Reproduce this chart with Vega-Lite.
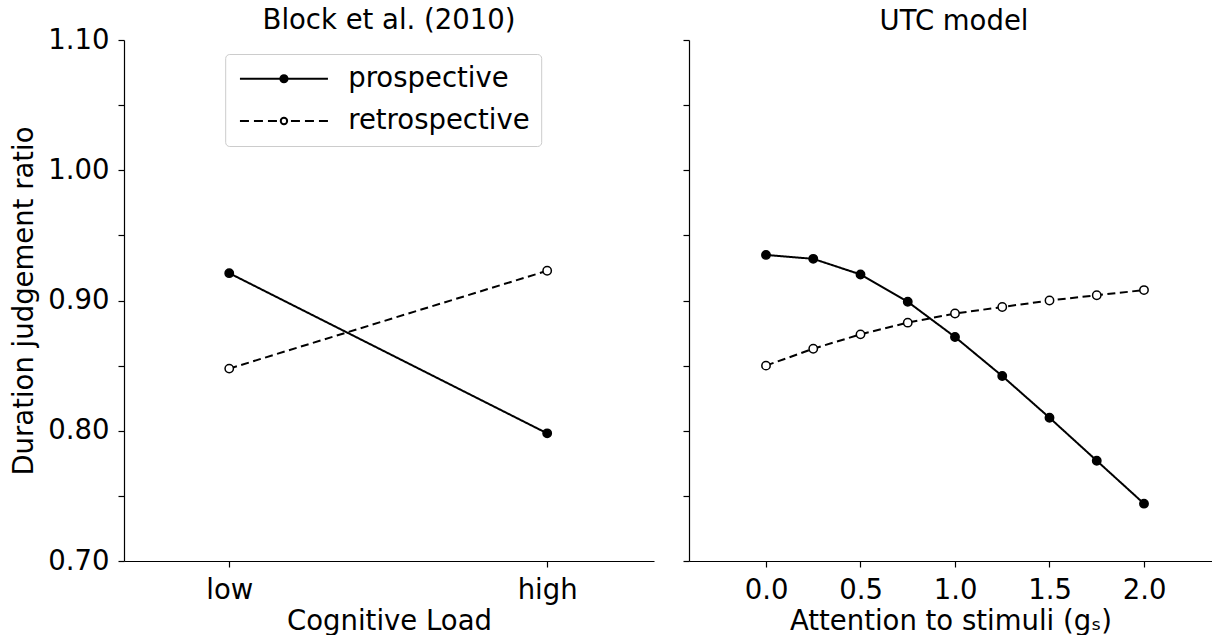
{
  "$schema": "https://vega.github.io/schema/vega-lite/v6.json",
  "padding": {"left": 10, "top": 7, "right": 0, "bottom": 0},
  "background": "white",
  "config": {
    "font": "DejaVu Sans",
    "view": {"stroke": null},
    "axis": {
      "domainColor": "black", "tickColor": "black", "labelColor": "black", "titleColor": "black",
      "grid": false, "labelFontSize": 27.5, "titleFontSize": 27.5, "titleFontWeight": "normal",
      "tickSize": 6, "tickWidth": 1.2, "domainWidth": 1.2, "labelPadding": 9
    },
    "title": {"fontSize": 27.5, "fontWeight": "normal", "color": "black"}
  },
  "datasets": {
    "block": [
      {"load": 0, "group": "prospective", "ratio": 0.921},
      {"load": 1, "group": "prospective", "ratio": 0.798},
      {"load": 0, "group": "retrospective", "ratio": 0.8477},
      {"load": 1, "group": "retrospective", "ratio": 0.9228}
    ],
    "utc": [
      {"gs": 0.0, "group": "prospective", "ratio": 0.935},
      {"gs": 0.25, "group": "prospective", "ratio": 0.932},
      {"gs": 0.5, "group": "prospective", "ratio": 0.920},
      {"gs": 0.75, "group": "prospective", "ratio": 0.899},
      {"gs": 1.0, "group": "prospective", "ratio": 0.872},
      {"gs": 1.25, "group": "prospective", "ratio": 0.842},
      {"gs": 1.5, "group": "prospective", "ratio": 0.810},
      {"gs": 1.75, "group": "prospective", "ratio": 0.777},
      {"gs": 2.0, "group": "prospective", "ratio": 0.744},
      {"gs": 0.0, "group": "retrospective", "ratio": 0.850},
      {"gs": 0.25, "group": "retrospective", "ratio": 0.863},
      {"gs": 0.5, "group": "retrospective", "ratio": 0.874},
      {"gs": 0.75, "group": "retrospective", "ratio": 0.883},
      {"gs": 1.0, "group": "retrospective", "ratio": 0.890},
      {"gs": 1.25, "group": "retrospective", "ratio": 0.895},
      {"gs": 1.5, "group": "retrospective", "ratio": 0.900},
      {"gs": 1.75, "group": "retrospective", "ratio": 0.904},
      {"gs": 2.0, "group": "retrospective", "ratio": 0.908}
    ]
  },
  "spacing": 35,
  "bounds": "flush",
  "hconcat": [
    {
      "width": 530,
      "height": 521,
      "title": {"text": "Block et al. (2010)", "offset": -8.5},
      "data": {"name": "block"},
      "layer": [
        {
          "mark": {"type": "line", "color": "black", "strokeWidth": 2},
          "encoding": {
            "x": {"field": "load", "type": "quantitative", "scale": {"domain": [-0.331, 1.336], "nice": false, "zero": false},
              "axis": {"values": [0, 1], "labelExpr": "datum.value == 0 ? 'low' : 'high'", "title": "Cognitive Load"}},
            "y": {"field": "ratio", "type": "quantitative", "scale": {"domain": [0.7, 1.1], "nice": false, "zero": false},
              "axis": {"values": [0.7, 0.75, 0.8, 0.85, 0.9, 0.95, 1.0, 1.05, 1.1],
                "labelExpr": "round(datum.value * 100) % 10 == 0 ? format(datum.value, '.2f') : ''",
                "title": "Duration judgement ratio", "titlePadding": 9}},
            "detail": {"field": "group", "type": "nominal"},
            "strokeDash": {"condition": {"test": "datum.group === 'retrospective'", "value": [8, 4.5]}, "value": [1, 0]}
          }
        },
        {
          "mark": {"type": "point", "filled": true, "shape": "circle", "size": 70, "stroke": "black", "strokeWidth": 1.5, "opacity": 1},
          "encoding": {
            "x": {"field": "load", "type": "quantitative"},
            "y": {"field": "ratio", "type": "quantitative"},
            "fill": {"condition": {"test": "datum.group === 'prospective'", "value": "black"}, "value": "white"}
          }
        },
        {
          "mark": {"type": "point", "filled": false, "size": 400, "stroke": "black", "strokeWidth": 2, "opacity": 0},
          "encoding": {
            "x": {"field": "load", "type": "quantitative"},
            "y": {"field": "ratio", "type": "quantitative"},
            "shape": {"field": "group", "type": "nominal",
              "scale": {"domain": ["prospective", "retrospective"],
                "range": [
                  "M-1,0L7.8,0M3.76,0A0.36,0.36,0,1,1,3.04,0A0.36,0.36,0,1,1,3.76,0ZM3.58,0A0.18,0.18,0,1,1,3.22,0A0.18,0.18,0,1,1,3.58,0ZM3.45,0A0.05,0.05,0,1,1,3.35,0A0.05,0.05,0,1,1,3.45,0Z",
                  "M-1,0L-0.1,0M0.4,0L1.3,0M1.8,0L2.7,0M3.72,0A0.32,0.32,0,1,1,3.08,0A0.32,0.32,0,1,1,3.72,0ZM4.1,0L5,0M5.5,0L6.4,0M6.9,0L7.8,0"
                ]},
              "legend": {
                "title": null, "orient": "none", "legendX": 101.2, "legendY": 14,
                "symbolSize": 400, "symbolOpacity": 1,
                "labelFontSize": 27.5, "labelColor": "black", "labelOffset": 84.5, "labelLimit": 400,
                "padding": 11, "strokeColor": "#cccccc", "fillColor": "white", "cornerRadius": 4, "rowPadding": 13.2,
                "symbolStrokeWidth": 2, "symbolStrokeColor": "black", "symbolFillColor": "white"
              }
            }
          }
        }
      ]
    },
    {
      "width": 523,
      "height": 521,
      "title": {"text": "UTC model", "dx": 3.5, "offset": 3.5},
      "data": {"name": "utc"},
      "layer": [
        {
          "mark": {"type": "line", "color": "black", "strokeWidth": 2},
          "encoding": {
            "x": {"field": "gs", "type": "quantitative", "scale": {"domain": [-0.4074, 2.3598], "nice": false, "zero": false},
              "axis": {"values": [0, 0.5, 1, 1.5, 2], "format": ".1f", "title": "Attention to stimuli (gₛ)"}},
            "y": {"field": "ratio", "type": "quantitative", "scale": {"domain": [0.7, 1.1], "nice": false, "zero": false},
              "axis": {"values": [0.7, 0.75, 0.8, 0.85, 0.9, 0.95, 1.0, 1.05, 1.1], "labels": false, "title": null}},
            "detail": {"field": "group", "type": "nominal"},
            "strokeDash": {"condition": {"test": "datum.group === 'retrospective'", "value": [8, 4.5]}, "value": [1, 0]}
          }
        },
        {
          "mark": {"type": "point", "filled": true, "shape": "circle", "size": 70, "stroke": "black", "strokeWidth": 1.5, "opacity": 1},
          "encoding": {
            "x": {"field": "gs", "type": "quantitative"},
            "y": {"field": "ratio", "type": "quantitative"},
            "fill": {"condition": {"test": "datum.group === 'prospective'", "value": "black"}, "value": "white"}
          }
        }
      ]
    }
  ]
}
